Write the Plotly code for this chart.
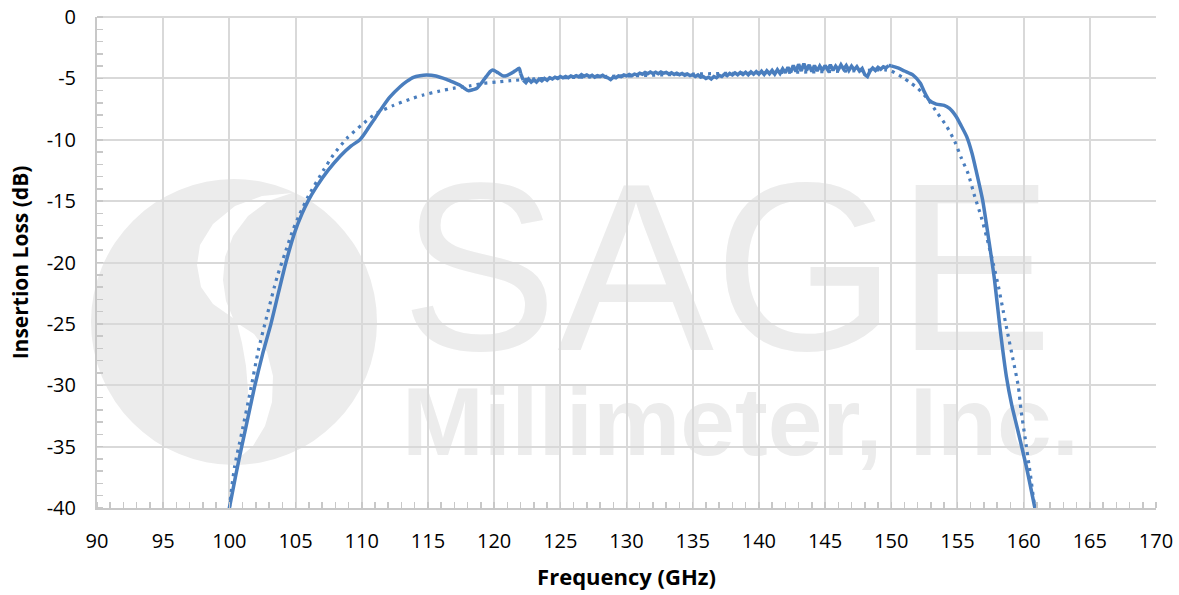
import base64
import plotly.graph_objects as go

# ---------------- data ----------------
# Measured insertion loss (solid) - lower skirt and shoulder
meas_low_freq = [100.0, 100.45, 100.93, 101.43, 101.93, 102.5, 103.14, 103.7, 104.27, 104.95,
                 105.5, 105.94, 106.6, 107.45, 108.4, 109.2, 109.86, 110.4, 110.9, 111.4,
                 112.1, 112.9, 113.4, 113.9, 114.4, 114.9, 115.6, 116.4, 117.0, 117.4,
                 117.75, 118.04, 118.4, 118.7, 119.1, 119.4, 119.7, 119.9, 120.3, 120.7,
                 121.0, 121.3, 121.6, 121.9, 122.0]
meas_low_db = [-40.0, -37.5, -35.0, -32.5, -30.0, -27.5, -25.0, -22.5, -20.0, -17.5,
               -16.0, -15.0, -13.8, -12.5, -11.3, -10.5, -10.0, -9.2, -8.4, -7.6,
               -6.55, -5.68, -5.25, -4.91, -4.78, -4.73, -4.8, -5.08, -5.35, -5.54,
               -5.8, -6.0, -5.92, -5.81, -5.3, -4.86, -4.45, -4.32, -4.55, -4.81,
               -4.75, -4.59, -4.38, -4.18, -4.6]

# Measured passband ripple, 122.2 .. 149.8 GHz in 0.2 GHz steps
pass_start = 122.2
pass_step = 0.2
pass_db = [-5.15, -5.35, -5.05, -5.30, -5.10, -5.30, -5.05, -5.20, -5.00, -5.15,
           -4.95, -5.05, -4.90, -5.00, -4.85, -4.95, -4.85, -4.95, -4.80, -4.90,
           -4.78, -4.88, -4.70, -4.82, -4.72, -4.85, -4.75, -4.90, -4.78, -4.85,
           -4.75, -4.90, -4.95, -5.10, -4.90, -4.95, -4.80, -4.85, -4.72, -4.80,
           -4.68, -4.78, -4.65, -4.72, -4.58, -4.66, -4.52, -4.62, -4.48, -4.60,
           -4.50, -4.62, -4.48, -4.58, -4.52, -4.65, -4.55, -4.68, -4.58, -4.70,
           -4.60, -4.75, -4.65, -4.78, -4.70, -4.85, -4.72, -4.90, -4.85, -5.00,
           -4.90, -5.05, -4.85, -4.95, -4.75, -4.85, -4.65, -4.78, -4.60, -4.72,
           -4.55, -4.70, -4.52, -4.68, -4.50, -4.70, -4.48, -4.66, -4.45, -4.65,
           -4.42, -4.68, -4.38, -4.62, -4.35, -4.65, -4.30, -4.60, -4.22, -4.55,
           -4.10, -4.50, -3.95, -4.45, -3.85, -4.40, -3.80, -4.35, -3.90, -4.45,
           -3.95, -4.40, -4.00, -4.35, -3.95, -4.30, -3.90, -4.35, -4.00, -4.30,
           -3.90, -4.25, -3.95, -4.35, -4.00, -4.30, -4.05, -4.40, -4.20, -4.70,
           -4.85, -4.40, -4.15, -4.35, -4.10, -4.25, -4.05, -4.15, -3.95]

# Measured upper shoulder and skirt
meas_high_freq = [150.0, 150.5, 151.0, 151.65, 152.2, 152.5, 152.85, 153.4, 154.0, 154.4,
                  154.9, 155.3, 155.7, 156.1, 156.4, 156.9, 157.4, 157.8, 158.2, 158.7,
                  159.1, 159.5, 160.2, 160.85]
meas_high_db = [-3.98, -4.15, -4.4, -4.73, -5.4, -6.1, -6.76, -7.09, -7.2, -7.44,
                -8.1, -8.9, -9.75, -11.1, -12.46, -14.9, -18.4, -21.4, -25.2, -29.3,
                -31.6, -33.4, -36.6, -40.0]

# Simulated insertion loss (dotted)
sim_freq = [100.0, 100.17, 100.4, 100.93, 101.6, 102.2, 102.8, 103.6, 104.2, 104.8,
            105.3, 105.96, 107.1, 107.85, 108.86, 109.99, 111.1, 112.4, 113.6, 114.65,
            115.9, 116.9, 118.2, 119.2, 120.2, 121.2, 123.0, 125.0, 130.0, 135.0,
            140.0, 145.0, 148.0, 149.5, 150.0, 150.9, 151.5, 152.0, 152.7, 153.5,
            154.2, 154.8, 155.3, 155.8, 156.3, 156.8, 157.2, 157.7, 158.1, 158.45,
            158.8, 159.2, 159.6, 159.8, 160.1, 160.5, 160.8, 160.9]
sim_db = [-40.0, -38.4, -36.6, -33.9, -30.4, -27.1, -24.5, -21.2, -19.25, -17.35,
          -16.1, -14.6, -12.5, -11.24, -9.9, -8.8, -7.85, -7.2, -6.71, -6.35,
          -6.03, -5.81, -5.6, -5.4, -5.3, -5.19, -5.05, -4.95, -4.8, -4.65,
          -4.55, -4.45, -4.35, -4.3, -4.4, -4.95, -5.4, -5.81, -6.6, -7.85,
          -8.93, -10.15, -11.5, -12.74, -14.6, -16.3, -17.9, -20.07, -21.97, -23.9,
          -25.8, -27.9, -30.1, -32.0, -34.2, -37.2, -39.6, -40.0]

x_ticks = [90, 95, 100, 105, 110, 115, 120, 125, 130, 135, 140, 145, 150, 155, 160, 165, 170]
y_ticks = [0, -5, -10, -15, -20, -25, -30, -35, -40]

pass_freq = [round(pass_start + pass_step * i, 2) for i in range(len(pass_db))]

# ---------------- figure ----------------
# body margin is removed by a small post-script, so the figure fills the page
W, H = 1179, 595
PLOT_L, PLOT_R, PLOT_T, PLOT_B = 97, 1156, 17, 508   # plot area in page pixels
ML, MT = PLOT_L, PLOT_T
MR = W - PLOT_R
MB = H - PLOT_B
PW, PH = PLOT_R - PLOT_L, PLOT_B - PLOT_T

BLUE = "#4A7EBE"
WM = "#ececec"
GRID = "#d9d9d9"
FONT = "Open Sans, Liberation Sans, sans-serif"


def pts(lst):
    return " ".join(f"{x:.1f},{y:.1f}" for x, y in lst)


upper_crescent = [(292, 193), (262, 196), (235, 206), (213, 224), (200, 245), (197, 265),
                  (201, 287), (213, 304), (233, 318), (226, 301), (223, 280), (225, 257),
                  (233, 236), (248, 216), (268, 201)]
lower_crescent = [(237, 323), (254, 334), (267, 352), (273, 376), (272, 402), (265, 426),
                  (253, 446), (240, 457), (244, 438), (247, 414), (248, 390), (246, 366),
                  (242, 343)]

# watermark drawn in page pixel coordinates
svg = f'''<svg xmlns="http://www.w3.org/2000/svg" width="{W}" height="{H}" viewBox="0 0 {W} {H}">
<circle cx="234" cy="322" r="143" fill="{WM}"/>
<polygon points="{pts(upper_crescent)}" fill="white"/>
<polygon points="{pts(lower_crescent)}" fill="white"/>
<text x="401" y="350" font-family="Liberation Sans, Arial, sans-serif" font-size="240" fill="{WM}" textLength="652" lengthAdjust="spacingAndGlyphs">SAGE</text>
<text x="402" y="455" font-family="Liberation Sans, Arial, sans-serif" font-weight="bold" font-size="96" fill="{WM}" textLength="677" lengthAdjust="spacingAndGlyphs">Millimeter, Inc.</text>
</svg>'''
svg_uri = "data:image/svg+xml;base64," + base64.b64encode(svg.encode()).decode()

fig = go.Figure()
fig.add_trace(go.Scatter(x=meas_low_freq, y=meas_low_db, mode="lines",
                         line=dict(color=BLUE, width=3.5, shape="spline", smoothing=0.6),
                         name="Measured"))
fig.add_trace(go.Scatter(x=pass_freq, y=pass_db, mode="lines",
                         line=dict(color=BLUE, width=3.5), name="Measured passband"))
fig.add_trace(go.Scatter(x=meas_high_freq, y=meas_high_db, mode="lines",
                         line=dict(color=BLUE, width=3.5, shape="spline", smoothing=0.6),
                         name="Measured"))
fig.add_trace(go.Scatter(x=sim_freq, y=sim_db, mode="lines",
                         line=dict(color=BLUE, width=3.2, dash="3px,5px", shape="spline", smoothing=0.6),
                         name="Simulated"))
# join the passband segment to its shoulders
fig.add_trace(go.Scatter(x=[meas_low_freq[-1], pass_freq[0]], y=[meas_low_db[-1], pass_db[0]],
                         mode="lines", line=dict(color=BLUE, width=3.5), name="join"))
fig.add_trace(go.Scatter(x=[pass_freq[-1], meas_high_freq[0]], y=[pass_db[-1], meas_high_db[0]],
                         mode="lines", line=dict(color=BLUE, width=3.5), name="join"))

fig.add_layout_image(dict(source=svg_uri, xref="paper", yref="paper",
                          x=-PLOT_L / PW, y=PLOT_B / PH,
                          sizex=W / PW, sizey=H / PH,
                          xanchor="left", yanchor="top",
                          sizing="stretch", layer="below"))

# top gridline at 0 dB (plot edge)
fig.add_shape(type="line", xref="paper", yref="paper", x0=0, x1=1, y0=1, y1=1,
              line=dict(color=GRID, width=2), layer="below")

axis_common = dict(showgrid=True, gridcolor=GRID, gridwidth=2,
                   showline=True, linecolor="#c8c8c8", linewidth=2,
                   ticks="", zeroline=False, automargin=False,
                   ticklabeloverflow="allow",
                   tickfont=dict(family=FONT, size=20, color="#000000"))

fig.update_xaxes(range=[90, 170], tickvals=x_ticks, ticktext=[str(v) for v in x_ticks],
                 minor=dict(dtick=1, ticks="inside", ticklen=6, tickcolor="#c8c8c8", tickwidth=1.5, showgrid=False),
                 ticklabelstandoff=14,
                 title=dict(text="<b>Frequency (GHz)</b>", standoff=17,
                            font=dict(family=FONT, size=22, color="#000000")),
                 **axis_common)
fig.update_yaxes(range=[-40, 0], tickvals=y_ticks, ticktext=[str(v) for v in y_ticks],
                 minor=dict(dtick=1, ticks="inside", ticklen=6, tickcolor="#c8c8c8", tickwidth=1.5, showgrid=False),
                 ticklabelstandoff=15,
                 title=dict(text="<b>Insertion Loss (dB)</b>", standoff=12,
                            font=dict(family=FONT, size=21, color="#000000")),
                 **axis_common)

fig.update_layout(width=W, height=H, margin=dict(l=ML, r=MR, t=MT, b=MB),
                  paper_bgcolor="white", plot_bgcolor="white", showlegend=False,
                  hovermode=False)

fig.write_html("out.html", config={"displayModeBar": False, "staticPlot": True},
               post_script="document.body.style.margin='0px';document.body.style.overflow='hidden';")
